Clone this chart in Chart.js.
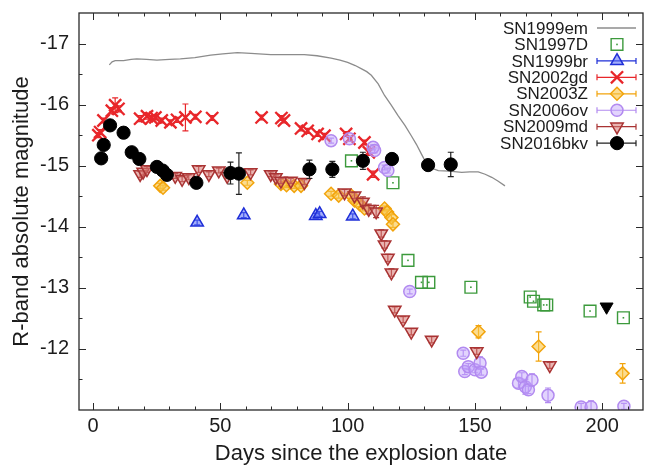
<!DOCTYPE html>
<html>
<head>
<meta charset="utf-8">
<script src="https://cdn.jsdelivr.net/npm/chart.js@4.4.1/dist/chart.umd.min.js"></script>
<style>
  html, body { margin: 0; padding: 0; background: #ffffff; }
  #c { display: block; }
</style>
</head>
<body>
<canvas id="c" width="645" height="470"></canvas>
<script>
// ---------------- DATA ----------------
const xTickValues = [0, 50, 100, 150, 200];
const yTickValues = [-17, -16, -15, -14, -13, -12];

const seriesNames = ["SN1999em", "SN1997D", "SN1999br", "SN2002gd", "SN2003Z", "SN2006ov", "SN2009md", "SN2016bkv"];

// SN1999em (template light curve, line)
const sn1999emDays = [6.4, 7.5, 8.7, 12, 15, 17.2, 21, 25.1, 30, 34.3, 40, 46.2, 51, 56.7, 62, 69.8, 76, 83, 88, 93.5, 97, 100, 103, 105.3, 107.5, 109.3, 112, 114.5, 117, 119.8, 122.5, 125, 127, 129, 131, 133, 135.6, 140, 144.8, 148, 151.3, 154, 156.6, 159, 161.8];
const sn1999emMag  = [-16.65, -16.70, -16.72, -16.72, -16.74, -16.75, -16.74, -16.73, -16.74, -16.75, -16.77, -16.81, -16.83, -16.85, -16.84, -16.82, -16.82, -16.82, -16.80, -16.76, -16.73, -16.69, -16.64, -16.59, -16.54, -16.48, -16.34, -16.15, -16.00, -15.82, -15.66, -15.49, -15.35, -15.19, -15.03, -14.96, -14.92, -14.91, -14.89, -14.90, -14.90, -14.86, -14.81, -14.75, -14.67];

// SN1997D
const sn1997dDays = [101.5, 117.8, 123.7, 129, 131.9, 148.4, 171.7, 173, 177, 178.2, 195.2, 208.3];
const sn1997dMag  = [-15.08, -14.72, -13.45, -13.09, -13.09, -13.01, -12.85, -12.78, -12.72, -12.72, -12.62, -12.51];

// SN1999br
const sn1999brDays = [40.9, 59.2, 87.5, 89, 102];
const sn1999brMag  = [-14.07, -14.19, -14.18, -14.21, -14.17];
const sn1999brErr  = [0.04, 0.04, 0.04, 0.04, 0.04];

// SN2002gd
const sn2002gdDays = [2.1, 2.8, 4.1, 7.4, 8.7, 10, 18.5, 21.2, 23, 24.5, 27, 30.4, 33, 36.3, 40.2, 46.8, 66.2, 74, 75, 81.7, 84.3, 88.2, 90.9, 99.4, 100.7, 106.6, 108.3, 110];
const sn2002gdMag  = [-15.50, -15.55, -15.74, -15.90, -15.99, -15.93, -15.77, -15.81, -15.78, -15.79, -15.74, -15.71, -15.75, -15.79, -15.80, -15.78, -15.79, -15.78, -15.74, -15.61, -15.57, -15.52, -15.49, -15.52, -15.44, -15.38, -15.22, -14.86];
const sn2002gdErr  = [0.04, 0.04, 0.04, 0.05, 0.12, 0.05, 0.05, 0.05, 0.04, 0.04, 0.04, 0.04, 0.04, 0.22, 0.04, 0.04, 0.04, 0.04, 0.04, 0.04, 0.04, 0.04, 0.04, 0.04, 0.04, 0.04, 0.05, 0.05];

// SN2003Z
const sn2003zDays = [26.4, 27.5, 60.6, 73.8, 76, 79, 81.7, 93.5, 96.5, 101.4, 102.7, 104.7, 106.6, 114.5, 115.5, 117.2, 117.8, 151.4, 175, 208];
const sn2003zMag  = [-14.67, -14.64, -14.72, -14.70, -14.68, -14.67, -14.67, -14.54, -14.51, -14.51, -14.43, -14.37, -14.30, -14.30, -14.24, -14.15, -14.04, -12.28, -12.04, -11.60];
const sn2003zErr  = [0.04, 0.04, 0.04, 0.04, 0.04, 0.04, 0.04, 0.04, 0.04, 0.04, 0.04, 0.04, 0.04, 0.04, 0.04, 0.05, 0.05, 0.10, 0.24, 0.16];

// SN2006ov
const sn2006ovDays = [93.5, 100.7, 110, 110.6, 114.5, 115.8, 124.4, 145.4, 146, 147.4, 150, 152, 152.5, 167.1, 168.4, 169.8, 171, 172.4, 178.7, 191.7, 195.6, 208.5];
const sn2006ovMag  = [-15.41, -15.44, -15.30, -15.25, -14.97, -14.92, -12.94, -11.93, -11.63, -11.71, -11.66, -11.77, -11.62, -11.44, -11.55, -11.38, -11.33, -11.49, -11.24, -11.05, -11.05, -11.06];
const sn2006ovErr  = [0.04, 0.04, 0.04, 0.04, 0.04, 0.04, 0.04, 0.05, 0.05, 0.05, 0.05, 0.10, 0.05, 0.08, 0.06, 0.12, 0.06, 0.10, 0.12, 0.06, 0.10, 0.05];

// SN2009md
const sn2009mdDays = [18.5, 19.7, 21.2, 32.3, 35, 37.6, 41.5, 45.5, 49.4, 52.7, 61.9, 69.8, 71.8, 73.8, 77.7, 83, 98.8, 102.7, 106, 108.3, 111.2, 113.2, 114.5, 115.8, 117.2, 118.5, 121.8, 125, 133, 150.7, 179.4];
const sn2009mdMag  = [-14.86, -14.90, -14.94, -14.83, -14.78, -14.81, -14.94, -14.86, -14.92, -14.83, -14.89, -14.86, -14.81, -14.75, -14.75, -14.73, -14.56, -14.51, -14.41, -14.29, -14.25, -13.89, -13.71, -13.49, -13.25, -12.64, -12.48, -12.28, -12.15, -11.96, -11.73];
const sn2009mdErr  = [0.05, 0.05, 0.05, 0.04, 0.04, 0.04, 0.05, 0.04, 0.04, 0.04, 0.04, 0.04, 0.04, 0.04, 0.04, 0.04, 0.05, 0.05, 0.08, 0.08, 0.10, 0.06, 0.06, 0.06, 0.06, 0.05, 0.05, 0.05, 0.05, 0.05, 0.05];

// SN2016bkv
const sn2016bkvDays = [3.2, 4.2, 6.7, 12.0, 15.2, 18.2, 25.1, 27.4, 29.0, 40.6, 54.0, 57.3, 85.0, 94.0, 106.0, 117.4, 131.6, 140.5];
const sn2016bkvMag  = [-15.12, -15.34, -15.66, -15.54, -15.22, -15.11, -14.98, -14.92, -14.85, -14.72, -14.88, -14.87, -14.94, -14.94, -15.08, -15.11, -15.01, -15.02];
const sn2016bkvErr  = [0.04, 0.04, 0.04, 0.04, 0.04, 0.04, 0.04, 0.04, 0.04, 0.05, 0.18, 0.34, 0.15, 0.13, 0.14, 0.05, 0.05, 0.20];

// SN2016bkv upper limit (black filled triangle, not in legend)
const sn2016bkvLimitDays = [201.7];
const sn2016bkvLimitMag  = [-12.69];

// ---------------- HELPERS ----------------
const zip = (xs, ys) => xs.map((x, i) => ({ x: x, y: ys[i] }));
const FONT = '"Liberation Sans", Arial, Helvetica, sans-serif';

function pointDataset(label, days, mags, errs, style) {
  return Object.assign({
    type: 'scatter',
    label: label,
    data: zip(days, mags),
    err: errs || null,
    showLine: false
  }, style);
}

const datasets = [
  {
    type: 'line', label: seriesNames[0], data: zip(sn1999emDays, sn1999emMag),
    borderColor: '#8c8c8c', borderWidth: 1.3, pointRadius: 0, fill: false, tension: 0,
    legendLine: true, legendPoint: false, order: 9
  },
  pointDataset(seriesNames[1], sn1997dDays, sn1997dMag, null, {
    pointStyle: 'rect', pointRadius: 8.3, borderColor: '#3c9a3c', backgroundColor: 'rgba(255,255,255,0)',
    borderWidth: 1.4, pointHoverRadius: 8.3, centerDot: true, legendLine: false, legendPoint: true, order: 8
  }),
  pointDataset(seriesNames[2], sn1999brDays, sn1999brMag, sn1999brErr, {
    pointStyle: 'triangle', pointRadius: 7.2, borderColor: '#1f2fd8', backgroundColor: 'rgba(90,110,245,0.55)',
    borderWidth: 1.5, legendLine: true, legendPoint: true, order: 7
  }),
  pointDataset(seriesNames[3], sn2002gdDays, sn2002gdMag, sn2002gdErr, {
    pointStyle: 'crossRot', pointRadius: 8.6, borderColor: '#e8262a', backgroundColor: '#e8262a',
    borderWidth: 2.3, legendLine: true, legendPoint: true, order: 6
  }),
  pointDataset(seriesNames[4], sn2003zDays, sn2003zMag, sn2003zErr, {
    pointStyle: 'rectRot', pointRadius: 6.5, borderColor: '#f2a40c', backgroundColor: 'rgba(248,196,70,0.6)',
    borderWidth: 1.5, legendLine: true, legendPoint: true, order: 5
  }),
  pointDataset(seriesNames[5], sn2006ovDays, sn2006ovMag, sn2006ovErr, {
    pointStyle: 'circle', pointRadius: 6, borderColor: '#b28af0', backgroundColor: 'rgba(190,160,250,0.45)',
    borderWidth: 1.5, legendLine: true, legendPoint: true, order: 4
  }),
  pointDataset(seriesNames[6], sn2009mdDays, sn2009mdMag, sn2009mdErr, {
    pointStyle: 'triangle', pointRotation: 180, rotation: 180, pointRadius: 7.2, borderColor: '#a93333', backgroundColor: 'rgba(215,120,115,0.55)',
    borderWidth: 1.5, legendLine: true, legendPoint: true, order: 3
  }),
  pointDataset(seriesNames[7], sn2016bkvDays, sn2016bkvMag, sn2016bkvErr, {
    pointStyle: 'circle', pointRadius: 6.6, borderColor: '#000000', backgroundColor: '#000000',
    borderWidth: 1, errColor: '#222222', legendLine: true, legendPoint: true, order: 1
  }),
  pointDataset('SN2016bkv limit', sn2016bkvLimitDays, sn2016bkvLimitMag, null, {
    pointStyle: 'triangle', pointRotation: 180, rotation: 180, pointRadius: 7.5, borderColor: '#000000', backgroundColor: '#000000',
    borderWidth: 1, legend: false, order: 2
  })
];

// ---------------- PLUGINS ----------------
const errorBarPlugin = {
  id: 'errorBars',
  beforeDatasetDraw(chart, args) {
    const ds = chart.data.datasets[args.index];
    if (!ds.err) return;
    const xs = chart.scales.x, ys = chart.scales.y, a = chart.chartArea, ctx = chart.ctx;
    ctx.save();
    ctx.beginPath(); ctx.rect(a.left, a.top, a.right - a.left, a.bottom - a.top); ctx.clip();
    ctx.strokeStyle = ds.errColor || ds.borderColor;
    ctx.lineWidth = 1.2;
    ds.data.forEach((p, i) => {
      const e = ds.err[i];
      if (!e) return;
      const px = xs.getPixelForValue(p.x);
      const y1 = ys.getPixelForValue(p.y - e), y2 = ys.getPixelForValue(p.y + e);
      ctx.beginPath();
      ctx.moveTo(px, y1); ctx.lineTo(px, y2);
      ctx.moveTo(px - 3, y1); ctx.lineTo(px + 3, y1);
      ctx.moveTo(px - 3, y2); ctx.lineTo(px + 3, y2);
      ctx.stroke();
    });
    ctx.restore();
  },
  afterDatasetDraw(chart, args) {
    const ds = chart.data.datasets[args.index];
    if (!ds.centerDot) return;
    const xs = chart.scales.x, ys = chart.scales.y, ctx = chart.ctx;
    ctx.save();
    ctx.fillStyle = ds.borderColor;
    ds.data.forEach(p => {
      ctx.fillRect(xs.getPixelForValue(p.x) - 0.8, ys.getPixelForValue(p.y) - 0.8, 1.6, 1.6);
    });
    ctx.restore();
  }
};

const framePlugin = {
  id: 'frame',
  afterDraw(chart) {
    const { ctx, chartArea: a, scales: { x, y } } = chart;
    ctx.save();
    ctx.strokeStyle = '#2a2a2a';
    ctx.lineWidth = 1.3;
    ctx.strokeRect(a.left, a.top, a.right - a.left, a.bottom - a.top);
    ctx.lineWidth = 1;
    ctx.beginPath();
    for (let v = 0; v <= x.max; v += 10) {
      const px = Math.round(x.getPixelForValue(v)) + 0.5;
      const L = (v % 50 === 0) ? 7 : 3.5;
      ctx.moveTo(px, a.bottom); ctx.lineTo(px, a.bottom - L);
      ctx.moveTo(px, a.top); ctx.lineTo(px, a.top + L);
    }
    for (let v = -17; v < -11; v += 0.5) {
      const py = Math.round(y.getPixelForValue(v)) + 0.5;
      const L = (Number.isInteger(v)) ? 7 : 3.5;
      ctx.moveTo(a.left, py); ctx.lineTo(a.left + L, py);
      ctx.moveTo(a.right, py); ctx.lineTo(a.right - L, py);
    }
    ctx.stroke();
    ctx.restore();
  }
};

const legendPlugin = {
  id: 'customLegend',
  afterDraw(chart) {
    const ctx = chart.ctx;
    const items = chart.data.datasets.filter(d => d.legend !== false);
    const textRight = 588, symX = 617, lineL = 597, lineR = 636, y0 = 28, dy = 16.45;
    ctx.save();
    ctx.font = '17px ' + FONT;
    ctx.textAlign = 'right';
    ctx.textBaseline = 'middle';
    items.forEach((d, i) => {
      const yy = y0 + i * dy;
      ctx.fillStyle = '#1c1c1c';
      ctx.fillText(d.label, textRight, yy + 1);
      if (d.legendLine) {
        ctx.strokeStyle = d.type === 'line' ? d.borderColor : (d.errColor || d.borderColor);
        ctx.lineWidth = d.type === 'line' ? d.borderWidth : 1.2;
        ctx.beginPath();
        ctx.moveTo(lineL, yy); ctx.lineTo(lineR, yy);
        if (d.type !== 'line') {
          ctx.moveTo(lineL, yy - 3); ctx.lineTo(lineL, yy + 3);
          ctx.moveTo(lineR, yy - 3); ctx.lineTo(lineR, yy + 3);
        }
        ctx.stroke();
      }
      if (d.legendPoint) {
        ctx.fillStyle = d.backgroundColor;
        ctx.strokeStyle = d.borderColor;
        ctx.lineWidth = d.borderWidth;
        const opts = { pointStyle: d.pointStyle, rotation: d.pointRotation || 0, radius: d.pointRadius, borderWidth: d.borderWidth };
        if (Chart.helpers && Chart.helpers.drawPoint) {
          Chart.helpers.drawPoint(ctx, opts, symX, yy);
        } else {
          ctx.beginPath(); ctx.arc(symX, yy, d.pointRadius, 0, Math.PI * 2); ctx.fill(); ctx.stroke();
        }
        if (d.centerDot) {
          ctx.fillStyle = d.borderColor;
          ctx.fillRect(symX - 0.8, yy - 0.8, 1.6, 1.6);
        }
      }
    });
    ctx.restore();
  }
};

// ---------------- CHART ----------------
new Chart(document.getElementById('c'), {
  type: 'scatter',
  data: { datasets: datasets },
  plugins: [errorBarPlugin, framePlugin, legendPlugin],
  options: {
    responsive: false,
    animation: false,
    devicePixelRatio: 1,
    layout: { autoPadding: false, padding: { left: 0, top: 13, right: 2, bottom: 0 } },
    plugins: {
      legend: { display: false },
      tooltip: { enabled: false },
      title: { display: false }
    },
    scales: {
      x: {
        type: 'linear',
        min: -5.5,
        max: 216,
        afterFit(scale) { scale.height = 60; scale.paddingLeft = 0; scale.paddingRight = 0; },
        afterBuildTicks(scale) { scale.ticks = xTickValues.map(v => ({ value: v })); },
        grid: { display: false, drawTicks: false },
        border: { display: false },
        ticks: {
          color: '#1c1c1c',
          font: { family: FONT, size: 20 },
          padding: 4,
          maxRotation: 0,
          autoSkip: false
        },
        title: {
          display: true,
          text: 'Days since the explosion date',
          color: '#1c1c1c',
          font: { family: FONT, size: 22 },
          padding: { top: 0, bottom: 3 }
        }
      },
      y: {
        type: 'linear',
        reverse: true,
        min: -17.5,
        max: -11,
        afterFit(scale) { scale.width = 79; scale.paddingTop = 0; scale.paddingBottom = 0; },
        afterBuildTicks(scale) { scale.ticks = yTickValues.map(v => ({ value: v })); },
        grid: { display: false, drawTicks: false },
        border: { display: false },
        ticks: {
          color: '#1c1c1c',
          font: { family: FONT, size: 20 },
          padding: 10,
          autoSkip: false
        },
        title: {
          display: true,
          text: 'R-band absolute magnitude',
          color: '#1c1c1c',
          font: { family: FONT, size: 22 },
          padding: { top: 9, bottom: 0 }
        }
      }
    }
  }
});
</script>
</body>
</html>
